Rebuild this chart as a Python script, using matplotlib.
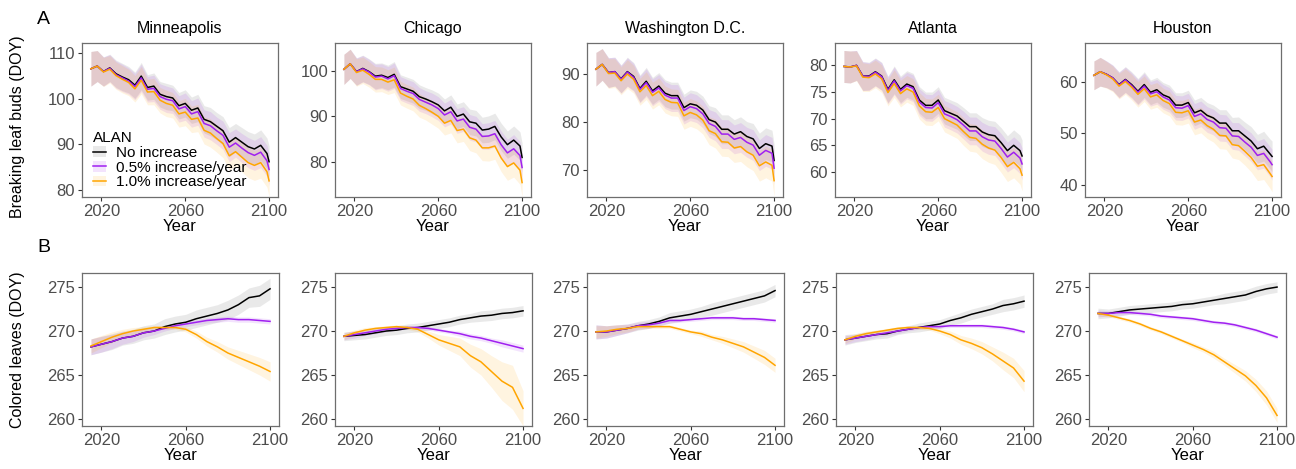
import matplotlib.pyplot as plt
from matplotlib.lines import Line2D
from matplotlib.patches import Patch

plt.rcParams['font.family'] = ['Liberation Sans', 'DejaVu Sans']

cities = ["Minneapolis", "Chicago", "Washington D.C.", "Atlanta", "Houston"]
scenarios = ["No increase", "0.5% increase/year", "1.0% increase/year"]

# leaf-out (breaking leaf buds), read every 3 years
years_bud = [2015, 2018, 2021, 2024, 2027, 2030, 2033, 2036, 2039, 2042,
             2045, 2048, 2051, 2054, 2057, 2060, 2063, 2066, 2069, 2072,
             2075, 2078, 2081, 2084, 2087, 2090, 2093, 2096, 2099, 2100]

mpls_bud_0 = [106.6, 107.2, 106.0, 106.8, 105.5, 104.8, 104.2, 103.0, 105.0, 102.5,
              102.8, 101.0, 100.5, 100.2, 98.5, 99.0, 97.5, 98.0, 95.5, 95.0,
              94.0, 93.0, 90.5, 91.5, 90.5, 89.5, 89.0, 89.8, 88.0, 86.2]
mpls_bud_05 = [106.6, 107.2, 106.0, 106.7, 105.3, 104.6, 103.9, 102.7, 104.6, 102.1,
               102.3, 100.5, 99.9, 99.6, 97.8, 98.3, 96.7, 97.2, 94.6, 94.1,
               93.0, 92.0, 89.4, 90.3, 89.2, 88.2, 87.6, 88.3, 86.4, 84.5]
mpls_bud_1 = [106.6, 107.2, 105.9, 106.5, 105.1, 104.3, 103.6, 102.2, 104.1, 101.5,
              101.6, 99.7, 99.0, 98.6, 96.7, 97.1, 95.5, 95.8, 93.1, 92.5,
              91.3, 90.2, 87.5, 88.4, 87.2, 86.0, 85.4, 86.0, 84.0, 82.0]
mpls_bud_sd = [3.8, 3.4, 3.2, 3.0, 3.0, 3.0, 2.9, 2.9, 3.0, 2.8,
               2.9, 2.8, 2.9, 2.8, 2.9, 3.0, 2.9, 3.0, 3.0, 3.1,
               3.0, 3.1, 3.2, 3.1, 3.2, 3.3, 3.3, 3.4, 3.4, 3.5]

chi_bud_0 = [100.3, 101.5, 99.8, 100.5, 99.8, 98.8, 99.0, 98.5, 99.2, 96.5,
             96.0, 95.5, 94.3, 93.8, 93.2, 92.5, 91.2, 92.0, 90.0, 90.5,
             88.8, 88.5, 87.0, 87.2, 87.8, 85.5, 83.8, 84.8, 83.5, 81.0]
chi_bud_05 = [100.3, 101.5, 99.8, 100.4, 99.7, 98.6, 98.8, 98.2, 98.9, 96.1,
              95.5, 95.0, 93.7, 93.1, 92.5, 91.7, 90.3, 91.0, 89.0, 89.4,
              87.6, 87.2, 85.6, 85.7, 86.2, 83.8, 82.0, 82.9, 81.4, 78.8]
chi_bud_1 = [100.3, 101.5, 99.6, 100.1, 99.2, 98.1, 98.1, 97.5, 98.0, 95.1,
             94.4, 93.8, 92.4, 91.7, 90.9, 90.0, 88.5, 89.1, 86.9, 87.2,
             85.3, 84.8, 83.1, 83.1, 83.5, 80.9, 79.0, 79.8, 78.2, 75.5]
chi_bud_sd = [3.3, 3.2, 3.0, 2.9, 2.8, 2.8, 2.7, 2.7, 2.8, 2.6,
              2.6, 2.6, 2.6, 2.5, 2.6, 2.6, 2.6, 2.7, 2.7, 2.7,
              2.8, 2.8, 2.8, 2.9, 2.9, 3.0, 3.0, 3.1, 3.1, 3.2]

dc_bud_0 = [91.0, 92.0, 90.3, 90.5, 89.0, 90.5, 89.5, 87.0, 88.5, 86.5,
            87.5, 86.0, 85.5, 85.5, 83.0, 83.8, 83.5, 82.5, 80.5, 80.0,
            78.5, 78.5, 77.5, 78.0, 77.0, 76.5, 74.5, 75.5, 75.0, 72.0]
dc_bud_05 = [91.0, 92.0, 90.3, 90.5, 88.9, 90.4, 89.3, 86.8, 88.2, 86.2,
             87.1, 85.6, 85.0, 85.0, 82.4, 83.2, 82.8, 81.7, 79.7, 79.1,
             77.5, 77.5, 76.4, 76.8, 75.8, 75.2, 73.1, 74.1, 73.5, 70.4]
dc_bud_1 = [91.0, 92.0, 90.1, 90.2, 88.6, 90.0, 88.9, 86.3, 87.6, 85.5,
            86.4, 84.7, 84.1, 84.0, 81.3, 82.0, 81.5, 80.4, 78.2, 77.6,
            75.9, 75.8, 74.6, 74.9, 73.8, 73.1, 70.9, 71.7, 71.0, 67.8]
dc_bud_sd = [3.5, 3.3, 3.1, 3.0, 2.9, 3.0, 2.9, 2.8, 2.9, 2.8,
             2.8, 2.8, 2.8, 2.8, 2.8, 2.9, 2.9, 2.9, 2.9, 3.0,
             3.0, 3.0, 3.0, 3.1, 3.1, 3.2, 3.2, 3.3, 3.3, 3.4]

atl_bud_0 = [79.8, 79.7, 80.0, 78.0, 78.0, 78.8, 78.0, 75.5, 77.3, 75.5,
             76.5, 76.0, 73.5, 72.5, 72.5, 73.5, 71.5, 71.0, 70.5, 69.5,
             68.5, 68.5, 67.5, 67.0, 66.8, 65.5, 64.0, 65.0, 64.0, 63.0]
atl_bud_05 = [79.8, 79.7, 80.0, 78.0, 77.9, 78.7, 77.9, 75.3, 77.1, 75.2,
              76.2, 75.7, 73.1, 72.1, 72.0, 73.0, 70.9, 70.4, 69.8, 68.8,
              67.7, 67.7, 66.6, 66.0, 65.8, 64.4, 62.8, 63.7, 62.6, 61.5]
atl_bud_1 = [79.8, 79.7, 79.9, 77.8, 77.7, 78.4, 77.5, 74.9, 76.6, 74.7,
             75.6, 75.0, 72.4, 71.3, 71.2, 72.1, 70.0, 69.4, 68.8, 67.6,
             66.5, 66.3, 65.2, 64.5, 64.1, 62.7, 61.0, 61.8, 60.6, 59.4]
atl_bud_sd = [3.0, 3.0, 2.8, 2.7, 2.6, 2.6, 2.6, 2.5, 2.6, 2.5,
              2.5, 2.5, 2.5, 2.5, 2.5, 2.5, 2.5, 2.5, 2.5, 2.6,
              2.6, 2.6, 2.7, 2.7, 2.7, 2.8, 2.8, 2.9, 2.9, 3.0]

hou_bud_0 = [61.3, 62.0, 61.5, 60.8, 59.5, 60.5, 59.5, 58.2, 59.5, 58.0,
             58.5, 57.5, 57.0, 55.5, 55.5, 56.0, 54.0, 54.5, 53.5, 53.0,
             52.0, 52.0, 50.5, 50.5, 49.5, 48.5, 47.0, 47.5, 46.0, 45.5]
hou_bud_05 = [61.3, 62.0, 61.5, 60.8, 59.4, 60.4, 59.3, 58.0, 59.2, 57.7,
              58.1, 57.1, 56.5, 55.0, 54.9, 55.4, 53.3, 53.8, 52.7, 52.2,
              51.1, 51.0, 49.5, 49.4, 48.3, 47.3, 45.7, 46.1, 44.5, 43.9]
hou_bud_1 = [61.3, 62.0, 61.4, 60.6, 59.2, 60.1, 59.0, 57.6, 58.7, 57.1,
             57.5, 56.4, 55.8, 54.1, 54.0, 54.4, 52.2, 52.6, 51.5, 50.8,
             49.6, 49.5, 47.8, 47.6, 46.5, 45.3, 43.6, 43.9, 42.2, 41.6]
hou_bud_sd = [2.8, 2.8, 2.6, 2.5, 2.5, 2.5, 2.5, 2.5, 2.5, 2.4,
              2.4, 2.4, 2.4, 2.4, 2.4, 2.4, 2.5, 2.5, 2.5, 2.5,
              2.6, 2.6, 2.6, 2.7, 2.7, 2.8, 2.8, 2.9, 2.9, 3.0]

# leaf colouring, read every 5 years
years_col = [2015, 2020, 2025, 2030, 2035, 2040, 2045, 2050, 2055,
             2060, 2065, 2070, 2075, 2080, 2085, 2090, 2095, 2100]

mpls_col_0 = [268.2, 268.5, 268.8, 269.2, 269.4, 269.8, 270.0, 270.5, 270.8,
              271.0, 271.4, 271.7, 272.0, 272.4, 273.0, 273.8, 274.0, 274.8]
mpls_col_05 = [268.2, 268.5, 268.8, 269.2, 269.4, 269.8, 270.0, 270.3, 270.6,
               270.8, 271.0, 271.2, 271.3, 271.4, 271.3, 271.3, 271.2, 271.1]
mpls_col_1 = [268.3, 268.8, 269.3, 269.7, 270.0, 270.2, 270.4, 270.4, 270.4,
              270.2, 269.6, 268.8, 268.2, 267.5, 267.0, 266.5, 266.0, 265.4]
mpls_col_sd0 = [0.9, 0.9, 0.9, 0.8, 0.8, 0.8, 0.8, 0.9, 0.9,
                0.9, 1.0, 1.0, 1.0, 1.1, 1.1, 1.1, 1.2, 1.2]
mpls_col_sd05 = [0.9, 0.9, 0.8, 0.7, 0.6, 0.5, 0.4, 0.3, 0.3,
                 0.3, 0.3, 0.3, 0.3, 0.3, 0.3, 0.3, 0.3, 0.3]
mpls_col_sd1 = [0.8, 0.7, 0.6, 0.5, 0.4, 0.3, 0.2, 0.2, 0.2,
                0.3, 0.4, 0.5, 0.6, 0.7, 0.8, 0.9, 1.0, 1.1]

chi_col_0 = [269.4, 269.5, 269.6, 269.8, 270.0, 270.1, 270.3, 270.4, 270.6,
             270.8, 271.0, 271.3, 271.5, 271.7, 271.8, 272.0, 272.1, 272.3]
chi_col_05 = [269.4, 269.6, 269.8, 270.0, 270.2, 270.3, 270.4, 270.4, 270.3,
              270.1, 269.9, 269.7, 269.4, 269.2, 268.9, 268.6, 268.3, 268.0]
chi_col_1 = [269.4, 269.8, 270.1, 270.3, 270.4, 270.5, 270.4, 270.2, 269.6,
             269.0, 268.6, 268.2, 267.2, 266.5, 265.4, 264.3, 263.6, 261.2]
chi_col_sd0 = [0.5, 0.5, 0.5, 0.5, 0.5, 0.5, 0.5, 0.5, 0.5,
               0.5, 0.5, 0.5, 0.5, 0.6, 0.6, 0.6, 0.6, 0.6]
chi_col_sd05 = [0.4, 0.4, 0.3, 0.3, 0.3, 0.2, 0.2, 0.2, 0.2,
                0.2, 0.2, 0.3, 0.3, 0.3, 0.3, 0.4, 0.4, 0.4]
chi_col_sd1 = [0.4, 0.3, 0.3, 0.2, 0.2, 0.2, 0.2, 0.3, 0.4,
               0.6, 0.8, 1.0, 1.3, 1.5, 1.8, 2.2, 2.5, 2.0]

dc_col_0 = [269.9, 269.9, 270.1, 270.3, 270.6, 270.8, 271.1, 271.5, 271.7,
            271.9, 272.2, 272.5, 272.8, 273.1, 273.4, 273.7, 274.0, 274.6]
dc_col_05 = [269.9, 269.9, 270.1, 270.3, 270.6, 270.7, 270.9, 271.2, 271.2,
             271.3, 271.4, 271.5, 271.5, 271.5, 271.4, 271.4, 271.3, 271.2]
dc_col_1 = [269.9, 270.0, 270.2, 270.3, 270.5, 270.5, 270.5, 270.5, 270.2,
            269.9, 269.7, 269.3, 269.0, 268.6, 268.2, 267.6, 267.0, 266.1]
dc_col_sd0 = [0.8, 0.7, 0.6, 0.5, 0.5, 0.5, 0.5, 0.6, 0.6,
              0.6, 0.6, 0.7, 0.7, 0.7, 0.7, 0.7, 0.7, 0.7]
dc_col_sd05 = [0.8, 0.7, 0.6, 0.5, 0.4, 0.4, 0.3, 0.3, 0.2,
               0.2, 0.2, 0.2, 0.2, 0.2, 0.2, 0.2, 0.2, 0.2]
dc_col_sd1 = [0.7, 0.6, 0.5, 0.4, 0.3, 0.2, 0.2, 0.2, 0.2,
              0.2, 0.3, 0.3, 0.4, 0.5, 0.6, 0.7, 0.8, 0.8]

atl_col_0 = [269.0, 269.2, 269.4, 269.6, 269.7, 270.0, 270.2, 270.4, 270.6,
             270.8, 271.2, 271.5, 271.9, 272.2, 272.5, 272.9, 273.1, 273.4]
atl_col_05 = [269.0, 269.2, 269.4, 269.6, 269.8, 270.0, 270.2, 270.4, 270.5,
              270.5, 270.6, 270.6, 270.6, 270.6, 270.5, 270.4, 270.2, 269.9]
atl_col_1 = [269.0, 269.4, 269.7, 269.9, 270.1, 270.3, 270.4, 270.4, 270.3,
             270.0, 269.6, 269.0, 268.6, 268.1, 267.4, 266.6, 265.8, 264.3]
atl_col_sd0 = [0.6, 0.5, 0.5, 0.5, 0.5, 0.4, 0.4, 0.5, 0.5,
               0.5, 0.5, 0.6, 0.6, 0.6, 0.6, 0.7, 0.7, 0.7]
atl_col_sd05 = [0.5, 0.4, 0.4, 0.3, 0.3, 0.3, 0.2, 0.2, 0.2,
                0.2, 0.2, 0.2, 0.2, 0.2, 0.2, 0.2, 0.2, 0.2]
atl_col_sd1 = [0.4, 0.3, 0.3, 0.2, 0.2, 0.2, 0.2, 0.2, 0.2,
               0.3, 0.4, 0.5, 0.6, 0.7, 0.8, 1.0, 1.1, 1.2]

hou_col_0 = [272.0, 272.0, 272.2, 272.4, 272.5, 272.6, 272.7, 272.8, 273.0,
             273.1, 273.3, 273.5, 273.7, 273.9, 274.1, 274.5, 274.8, 275.0]
hou_col_05 = [272.0, 272.0, 272.1, 272.1, 272.0, 271.9, 271.7, 271.6, 271.5,
              271.4, 271.2, 271.0, 270.9, 270.7, 270.4, 270.1, 269.7, 269.3]
hou_col_1 = [272.0, 271.8, 271.5, 271.2, 270.8, 270.3, 269.9, 269.4, 268.9,
             268.4, 267.9, 267.3, 266.5, 265.7, 264.9, 263.8, 262.4, 260.4]
hou_col_sd0 = [0.6, 0.5, 0.5, 0.5, 0.5, 0.5, 0.5, 0.5, 0.5,
               0.5, 0.5, 0.5, 0.6, 0.6, 0.6, 0.6, 0.6, 0.6]
hou_col_sd05 = [0.4, 0.3, 0.3, 0.2, 0.2, 0.2, 0.2, 0.2, 0.2,
                0.2, 0.2, 0.2, 0.2, 0.2, 0.2, 0.2, 0.2, 0.2]
hou_col_sd1 = [0.3, 0.2, 0.2, 0.2, 0.2, 0.2, 0.2, 0.2, 0.2,
               0.3, 0.3, 0.4, 0.4, 0.5, 0.6, 0.7, 0.8, 0.8]

line_colors = ["black", "#A020F0", "#FFA500"]
fill_colors = ["#9e9e9e", "#A020F0", "#FFA500"]
fill_alpha = [0.22, 0.12, 0.12]

W, H = 1296, 469
fig = plt.figure(figsize=(W / 100, H / 100), dpi=100)


def add_px_axes(left, top, right, bottom):
    return fig.add_axes([left / W, 1 - bottom / H, (right - left) / W, (bottom - top) / H])


def draw_panel(ax, years, series, spreads, ylim, yticks):
    for vals, sd, fc, a in zip(series, spreads, fill_colors, fill_alpha):
        lo = [v - s for v, s in zip(vals, sd)]
        hi = [v + s for v, s in zip(vals, sd)]
        ax.fill_between(years, lo, hi, color=fc, alpha=a, lw=0)
    for vals, lc in zip(series, line_colors):
        ax.plot(years, vals, color=lc, lw=1.1)
    ax.set_xlim(2010.75, 2104.25)
    ax.set_xticks([2020, 2060, 2100])
    ax.set_ylim(*ylim)
    ax.set_yticks(yticks)
    ax.tick_params(labelsize=12, labelcolor="#4d4d4d", color="#333333",
                   length=3, width=0.8, pad=2)
    for sp in ax.spines.values():
        sp.set_color("#6e6e6e")
        sp.set_linewidth(0.9)
    ax.set_xlabel("Year", fontsize=12, labelpad=0)


bud_series = [
    [mpls_bud_0, mpls_bud_05, mpls_bud_1],
    [chi_bud_0, chi_bud_05, chi_bud_1],
    [dc_bud_0, dc_bud_05, dc_bud_1],
    [atl_bud_0, atl_bud_05, atl_bud_1],
    [hou_bud_0, hou_bud_05, hou_bud_1],
]
bud_sd = [mpls_bud_sd, chi_bud_sd, dc_bud_sd, atl_bud_sd, hou_bud_sd]
col_series = [
    [mpls_col_0, mpls_col_05, mpls_col_1],
    [chi_col_0, chi_col_05, chi_col_1],
    [dc_col_0, dc_col_05, dc_col_1],
    [atl_col_0, atl_col_05, atl_col_1],
    [hou_col_0, hou_col_05, hou_col_1],
]
col_sd = [
    [mpls_col_sd0, mpls_col_sd05, mpls_col_sd1],
    [chi_col_sd0, chi_col_sd05, chi_col_sd1],
    [dc_col_sd0, dc_col_sd05, dc_col_sd1],
    [atl_col_sd0, atl_col_sd05, atl_col_sd1],
    [hou_col_sd0, hou_col_sd05, hou_col_sd1],
]

bud_ylims = [(78.46, 112.26), (72.34, 106.06), (64.4, 96.46), (55.3, 84.2), (37.6, 67.6)]
bud_yticks = [[80, 90, 100, 110], [80, 90, 100], [70, 80, 90], [60, 65, 70, 75, 80], [40, 50, 60]]

top_lefts = [82, 335, 587, 835, 1085]
bot_lefts = [82, 335, 587, 836, 1089]

axes_top = []
for i, city in enumerate(cities):
    ax = add_px_axes(top_lefts[i], 43, top_lefts[i] + 196, 197)
    draw_panel(ax, years_bud, bud_series[i], [bud_sd[i]] * 3, bud_ylims[i], bud_yticks[i])
    ax.set_title(city, fontsize=11.5, pad=7)
    axes_top.append(ax)

for i, city in enumerate(cities):
    ax = add_px_axes(bot_lefts[i], 273, bot_lefts[i] + 197, 426)
    draw_panel(ax, years_col, col_series[i], col_sd[i], (259.2, 276.6), [260, 265, 270, 275])

handles = [(Patch(facecolor=fc, alpha=a, lw=0), Line2D([], [], color=lc, lw=1.1))
           for fc, a, lc in zip(fill_colors, fill_alpha, line_colors)]
axes_top[0].legend(handles, scenarios, title="ALAN", loc="lower left",
                   bbox_to_anchor=(0.0, -0.02), frameon=False, fontsize=11,
                   title_fontsize=11, handlelength=0.9, handletextpad=0.6,
                   labelspacing=0.05, borderpad=0.2, alignment="left")

fig.text(37 / W, 1 - 20 / H, "A", fontsize=14, va="center")
fig.text(37 / W, 1 - 247 / H, "B", fontsize=14, va="center")
fig.text(18 / W, 1 - 127 / H, "Breaking leaf buds (DOY)", rotation=90,
         fontsize=11.5, ha="center", va="center")
fig.text(18 / W, 1 - 350 / H, "Colored leaves (DOY)", rotation=90,
         fontsize=11.5, ha="center", va="center")

fig.savefig("out.png", dpi=100)
